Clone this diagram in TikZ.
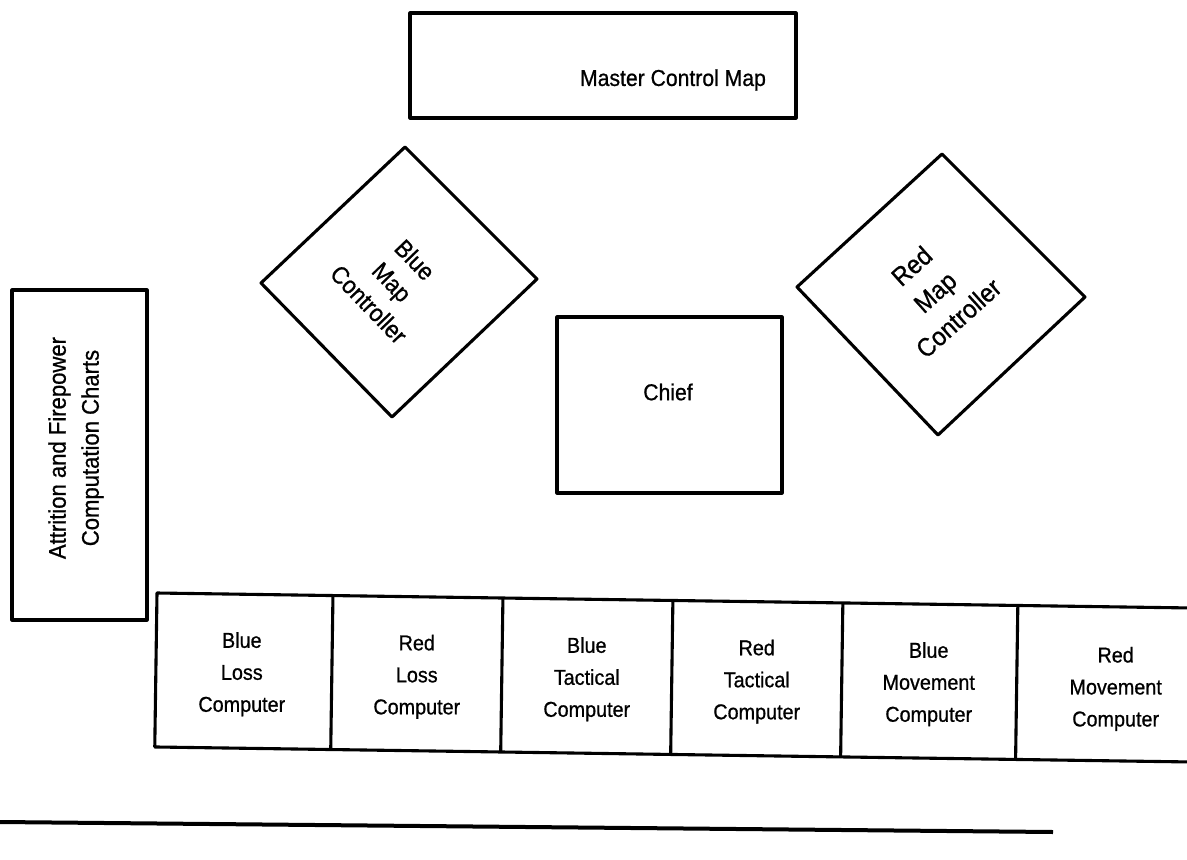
\documentclass[tikz,border=0pt]{standalone}
\usepackage{fontspec}
\setmainfont{Liberation Sans}[FakeStretch=0.92, FakeBold=0.8]
\begin{document}
\begin{tikzpicture}[x=1pt,y=-1pt, line join=round,
  outl/.style={line width=3.1pt},
  box/.style={draw, outl, inner sep=0pt},
  lbl/.style={font=\fontsize{21.5}{32}\selectfont, align=center, inner sep=0pt}]
\useasboundingbox (0,0) rectangle (1187,860);

% Master Control Map
\node[box, minimum width=386pt, minimum height=105pt] (mcm) at (603,65.5) {};
\node[lbl, font=\fontsize{23}{26}\selectfont] (mcmt) at (673,80) {Master Control Map};

% Chief
\node[box, minimum width=225pt, minimum height=176pt] (chief) at (669.5,405) {};
\node[lbl, font=\fontsize{23}{26}\selectfont] (chieft) at (668,392) {Chief};

% Attrition and Firepower Computation Charts
\node[box, minimum width=135pt, minimum height=330pt] (attr) at (79.5,455) {};
\node[lbl, font=\fontsize{24}{33}\selectfont, rotate=90] (attrt) at (76,448)
  {Attrition and Firepower\\Computation Charts};

% Blue Map Controller
\coordinate (bt) at (405,147);
\coordinate (br) at (537,279);
\coordinate (bb) at (392,417);
\coordinate (bl) at (261,283);
\draw[outl] (bt) -- (br) -- (bb) -- (bl) -- cycle;
\node[lbl, font=\fontsize{24.5}{32}\selectfont, rotate=-46] (bmct) at (392,282)
  {Blue\\Map\\Controller};

% Red Map Controller
\coordinate (rt) at (942,154);
\coordinate (rr) at (1085,297);
\coordinate (rb) at (938,435);
\coordinate (rl) at (797,287);
\draw[outl] (rt) -- (rr) -- (rb) -- (rl) -- cycle;
\node[lbl, font=\fontsize{26}{35}\selectfont, rotate=42] (rmct) at (935,292)
  {Red\\Map\\Controller};

% Bottom row of computers
\begin{scope}[shift={(157,593)}, rotate=-0.83]
  \coordinate (c0t) at (0,0);    \coordinate (c0b) at (0,154);
  \coordinate (c1t) at (176,0);  \coordinate (c1b) at (176,154);
  \coordinate (c2t) at (346,0);  \coordinate (c2b) at (346,154);
  \coordinate (c3t) at (516,0);  \coordinate (c3b) at (516,154);
  \coordinate (c4t) at (686,0);  \coordinate (c4b) at (686,154);
  \coordinate (c5t) at (861,0);  \coordinate (c5b) at (861,154);
  \coordinate (endt) at (1045,0); \coordinate (endb) at (1045,154);
  \draw[outl] (endt) -- (c0t) -- (c0b) -- (endb);
  \draw[outl] (c1t) -- (c1b);
  \draw[outl] (c2t) -- (c2b);
  \draw[outl] (c3t) -- (c3b);
  \draw[outl] (c4t) -- (c4b);
  \draw[outl] (c5t) -- (c5b);
  \node[lbl] (blc) at (86,80) {Blue\\Loss\\Computer};
  \node[lbl] (rlc) at (261,80) {Red\\Loss\\Computer};
  \node[lbl] (btc) at (431,80) {Blue\\Tactical\\Computer};
  \node[lbl] (rtc) at (601,80) {Red\\Tactical\\Computer};
  \node[lbl] (bmc) at (773,80) {Blue\\Movement\\Computer};
  \node[lbl] (rmc) at (960,82) {Red\\Movement\\Computer};
\end{scope}

% Bottom rule
\coordinate (ls) at (0,822);
\coordinate (le) at (1053,832);
\draw[line width=4pt] (ls) -- (le);
\end{tikzpicture}
\end{document}
